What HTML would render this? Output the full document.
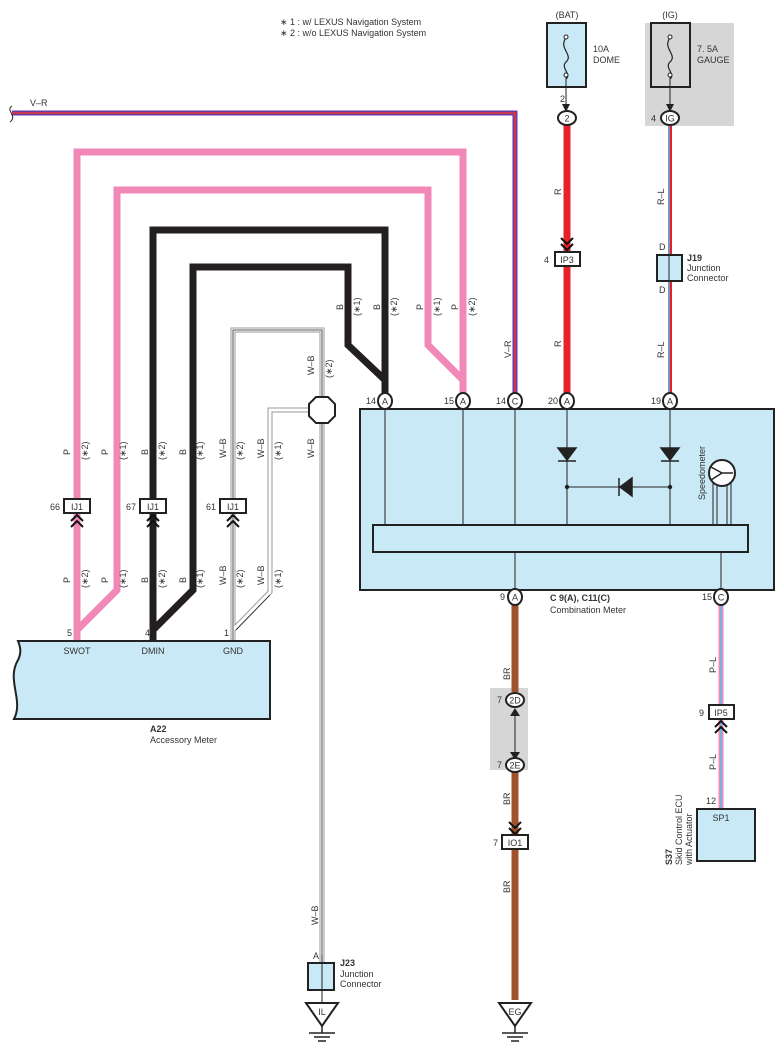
<!DOCTYPE html>
<html><head><meta charset="utf-8"><style>
html,body{margin:0;padding:0;background:#fff}
svg{display:block}
text{font-family:"Liberation Sans",sans-serif;fill:#333}
</style></head><body>
<svg width="784" height="1056" viewBox="0 0 784 1056" xmlns="http://www.w3.org/2000/svg">
<defs>
<g id="chev"><path d="M-6,0 L0,-6 L6,0 M-6,6 L0,0 L6,6" fill="none" stroke="#111" stroke-width="2"/></g>
<g id="chevd"><path d="M-6,-6 L0,0 L6,-6 M-6,0 L0,6 L6,0" fill="none" stroke="#111" stroke-width="2"/></g>
</defs>
<!-- legend -->
<text x="280" y="25" font-size="9">∗ 1 : w/ LEXUS Navigation System</text>
<text x="280" y="36" font-size="9">∗ 2 : w/o LEXUS Navigation System</text>

<!-- fuses -->
<text x="567" y="18" font-size="9" text-anchor="middle">(BAT)</text>
<rect x="547" y="23" width="39" height="64" fill="#c9e9f7" stroke="#222" stroke-width="2"/>
<path d="M566,38 C558,48 574,55 566,62 C560,68 572,74 566,79" fill="none" stroke="#222" stroke-width="1.2"/>
<circle cx="566" cy="37" r="2" fill="#fff" stroke="#222"/><circle cx="566" cy="75" r="2" fill="#fff" stroke="#222"/>
<text x="593" y="52" font-size="9">10A</text><text x="593" y="63" font-size="9">DOME</text>
<line x1="566" y1="77" x2="566" y2="110" stroke="#222" stroke-width="1"/>
<path d="M562,104 L566,112 L570,104 Z" fill="#222"/>
<text x="560" y="102" font-size="9">2</text>

<rect x="645" y="23" width="89" height="103" fill="#d6d6d6"/>
<text x="670" y="18" font-size="9" text-anchor="middle">(IG)</text>
<rect x="651" y="23" width="39" height="64" fill="#d6d6d6" stroke="#222" stroke-width="2"/>
<path d="M670,38 C662,48 678,55 670,62 C664,68 676,74 670,79" fill="none" stroke="#222" stroke-width="1.2"/>
<circle cx="670" cy="37" r="2" fill="#fff" stroke="#222"/><circle cx="670" cy="75" r="2" fill="#fff" stroke="#222"/>
<text x="697" y="52" font-size="9">7. 5A</text><text x="697" y="63" font-size="9">GAUGE</text>
<line x1="670" y1="77" x2="670" y2="110" stroke="#222" stroke-width="1"/>
<path d="M666,104 L670,112 L674,104 Z" fill="#222"/>

<!-- V-R wire -->
<path d="M12,113 H515 V400" fill="none" stroke="#6a3aa0" stroke-width="5"/>
<path d="M12,113 H515 V400" fill="none" stroke="#e8363c" stroke-width="1.6"/>
<path d="M12,106 C5,110 18,116 10,122" fill="none" stroke="#222" stroke-width="1"/>
<text x="30" y="106" font-size="9">V–R</text>

<!-- pink wires -->
<g fill="none" stroke="#f188b8" stroke-width="7" stroke-linejoin="miter">
<path d="M77,640 V152 H463 V400"/>
<path d="M77,630 L117,590 V190 H428 V345 L463,380"/>
</g>
<!-- black wires -->
<g fill="none" stroke="#231f20" stroke-width="7">
<path d="M153,640 V230 H385 V400"/>
<path d="M153,630 L193,590 V267 H348 V345 L385,380"/>
</g>
<!-- W-B wires -->
<g fill="none" stroke="#9a9a9a" stroke-width="5">
<path d="M233,640 V330 H322 V400"/>
<path d="M233,630 L270,592 V410 H314"/>
<path d="M322,420 V965"/>
</g>
<g fill="none" stroke="#fff" stroke-width="3">
<path d="M233,640 V330 H322 V400"/>
<path d="M233,630 L270,592 V410 H314"/>
<path d="M322,420 V965"/>
</g>
<g fill="none" stroke="#222" stroke-width="0.8">
<path d="M233,640 V330 H322 V400"/>
<path d="M236,630 L270,595"/>
<path d="M322,420 V965"/>
</g>
<polygon points="316,397 328,397 335,404 335,416 328,423 316,423 309,416 309,404" fill="#fff" stroke="#222" stroke-width="2"/>

<!-- wire labels left -->
<g font-size="9">
<text transform="translate(70,455) rotate(-90)">P</text>
<text transform="translate(88,460) rotate(-90)">(∗2)</text>
<text transform="translate(108,455) rotate(-90)">P</text>
<text transform="translate(126,460) rotate(-90)">(∗1)</text>
<text transform="translate(148,455) rotate(-90)">B</text>
<text transform="translate(165,460) rotate(-90)">(∗2)</text>
<text transform="translate(186,455) rotate(-90)">B</text>
<text transform="translate(203,460) rotate(-90)">(∗1)</text>
<text transform="translate(226,458) rotate(-90)">W–B</text>
<text transform="translate(243,460) rotate(-90)">(∗2)</text>
<text transform="translate(264,458) rotate(-90)">W–B</text>
<text transform="translate(281,460) rotate(-90)">(∗1)</text>
<text transform="translate(314,458) rotate(-90)">W–B</text>
<text transform="translate(70,583) rotate(-90)">P</text>
<text transform="translate(88,588) rotate(-90)">(∗2)</text>
<text transform="translate(108,583) rotate(-90)">P</text>
<text transform="translate(126,588) rotate(-90)">(∗1)</text>
<text transform="translate(148,583) rotate(-90)">B</text>
<text transform="translate(165,588) rotate(-90)">(∗2)</text>
<text transform="translate(186,583) rotate(-90)">B</text>
<text transform="translate(203,588) rotate(-90)">(∗1)</text>
<text transform="translate(226,585) rotate(-90)">W–B</text>
<text transform="translate(243,588) rotate(-90)">(∗2)</text>
<text transform="translate(264,585) rotate(-90)">W–B</text>
<text transform="translate(281,588) rotate(-90)">(∗1)</text>
<text transform="translate(314,375) rotate(-90)">W–B</text>
<text transform="translate(332,378) rotate(-90)">(∗2)</text>
<text transform="translate(343,310) rotate(-90)">B</text>
<text transform="translate(360,316) rotate(-90)">(∗1)</text>
<text transform="translate(380,310) rotate(-90)">B</text>
<text transform="translate(397,316) rotate(-90)">(∗2)</text>
<text transform="translate(423,310) rotate(-90)">P</text>
<text transform="translate(440,316) rotate(-90)">(∗1)</text>
<text transform="translate(458,310) rotate(-90)">P</text>
<text transform="translate(475,316) rotate(-90)">(∗2)</text>
<text transform="translate(511,358) rotate(-90)">V–R</text>
</g>

<!-- IJ1 connectors -->
<g font-size="9">
<rect x="64" y="499" width="26" height="14" fill="#fff" stroke="#222" stroke-width="2"/><text x="77" y="510" text-anchor="middle">IJ1</text><text x="50" y="510">66</text>
<use href="#chev" x="77" y="521"/>
<rect x="140" y="499" width="26" height="14" fill="#fff" stroke="#222" stroke-width="2"/><text x="153" y="510" text-anchor="middle">IJ1</text><text x="126" y="510">67</text>
<use href="#chev" x="153" y="521"/>
<rect x="220" y="499" width="26" height="14" fill="#fff" stroke="#222" stroke-width="2"/><text x="233" y="510" text-anchor="middle">IJ1</text><text x="206" y="510">61</text>
<use href="#chev" x="233" y="521"/>
</g>

<!-- A22 -->
<path d="M18,641 H270 V719 H14 C24,700 6,680 18,660 C22,652 20,646 18,641 Z" fill="#c9e9f7" stroke="#222" stroke-width="2"/>
<g font-size="9">
<text x="67" y="636">5</text><text x="145" y="636">4</text><text x="224" y="636">1</text>
<text x="77" y="654" text-anchor="middle">SWOT</text><text x="153" y="654" text-anchor="middle">DMIN</text><text x="233" y="654" text-anchor="middle">GND</text>
<text x="150" y="732" font-weight="bold">A22</text><text x="150" y="743">Accessory Meter</text>
</g>

<!-- R wire -->
<line x1="567" y1="125" x2="567" y2="398" stroke="#e8202a" stroke-width="7"/>
<ellipse cx="567" cy="118" rx="9" ry="7" fill="#fff" stroke="#222" stroke-width="2"/>
<text x="567" y="121.5" font-size="9" text-anchor="middle">2</text>
<rect x="555" y="252" width="25" height="14" fill="#fff" stroke="#222" stroke-width="2"/>
<text x="567" y="263" font-size="9" text-anchor="middle">IP3</text><text x="544" y="263" font-size="9">4</text>
<use href="#chevd" x="567" y="244"/>
<text transform="translate(561,195) rotate(-90)" font-size="9">R</text>
<text transform="translate(561,347) rotate(-90)" font-size="9">R</text>

<!-- R-L wire -->
<line x1="670" y1="125" x2="670" y2="398" stroke="#e8202a" stroke-width="4"/>
<line x1="669" y1="125" x2="669" y2="398" stroke="#4fc1e9" stroke-width="1.5"/>
<ellipse cx="670" cy="118" rx="9" ry="7" fill="#fff" stroke="#222" stroke-width="2"/>
<text x="670" y="121.5" font-size="9" text-anchor="middle">IG</text><text x="651" y="121.5" font-size="9">4</text>
<rect x="657" y="255" width="25" height="26" fill="#c9e9f7" stroke="#222" stroke-width="2"/>
<line x1="669" y1="255" x2="669" y2="281" stroke="#222" stroke-width="1"/>
<text x="659" y="250" font-size="9">D</text><text x="659" y="293" font-size="9">D</text>
<text x="687" y="261" font-size="9" font-weight="bold">J19</text>
<text x="687" y="271" font-size="9">Junction</text><text x="687" y="281" font-size="9">Connector</text>
<text transform="translate(664,205) rotate(-90)" font-size="9">R–L</text>
<text transform="translate(664,358) rotate(-90)" font-size="9">R–L</text>

<!-- combination meter -->
<rect x="360" y="409" width="414" height="181" fill="#c9e9f7" stroke="#222" stroke-width="2"/>
<g stroke="#222" stroke-width="1">
<line x1="385" y1="409" x2="385" y2="525"/><line x1="463" y1="409" x2="463" y2="525"/>
<line x1="515" y1="409" x2="515" y2="525"/><line x1="567" y1="409" x2="567" y2="525"/>
<line x1="670" y1="409" x2="670" y2="525"/>
<line x1="567" y1="487" x2="670" y2="487"/>
<line x1="515" y1="552" x2="515" y2="590"/><line x1="721" y1="552" x2="721" y2="590"/>
<line x1="713" y1="483" x2="713" y2="525"/><line x1="717" y1="485" x2="717" y2="525"/>
<line x1="727" y1="485" x2="727" y2="525"/><line x1="731" y1="483" x2="731" y2="525"/>
</g>
<rect x="373" y="525" width="375" height="27" fill="#c9e9f7" stroke="#222" stroke-width="2"/>
<path d="M558,448 H576 L567,460 Z M558,461 H576" fill="#222" stroke="#222" stroke-width="1.5"/>
<path d="M661,448 H679 L670,460 Z M661,461 H679" fill="#222" stroke="#222" stroke-width="1.5"/>
<path d="M632,478 V496 L620,487 Z M619,478 V496" fill="#222" stroke="#222" stroke-width="1.5"/>
<circle cx="567" cy="487" r="2.2" fill="#222"/><circle cx="670" cy="487" r="2.2" fill="#222"/>
<circle cx="722" cy="473" r="13" fill="#fff" stroke="#222" stroke-width="2"/>
<path d="M711,467 L722,473 L733,473 M722,473 L711,480" fill="none" stroke="#222" stroke-width="1.5"/>
<text transform="translate(705,500) rotate(-90)" font-size="9">Speedometer</text>

<!-- top pins -->
<g font-size="9">
<ellipse cx="385" cy="401" rx="7" ry="8" fill="#fff" stroke="#222" stroke-width="2"/><text x="385" y="404.5" text-anchor="middle">A</text><text x="366" y="404">14</text>
<ellipse cx="463" cy="401" rx="7" ry="8" fill="#fff" stroke="#222" stroke-width="2"/><text x="463" y="404.5" text-anchor="middle">A</text><text x="444" y="404">15</text>
<ellipse cx="515" cy="401" rx="7" ry="8" fill="#fff" stroke="#222" stroke-width="2"/><text x="515" y="404.5" text-anchor="middle">C</text><text x="496" y="404">14</text>
<ellipse cx="567" cy="401" rx="7" ry="8" fill="#fff" stroke="#222" stroke-width="2"/><text x="567" y="404.5" text-anchor="middle">A</text><text x="548" y="404">20</text>
<ellipse cx="670" cy="401" rx="7" ry="8" fill="#fff" stroke="#222" stroke-width="2"/><text x="670" y="404.5" text-anchor="middle">A</text><text x="651" y="404">19</text>
</g>

<!-- BR wire -->
<rect x="490" y="688" width="38" height="82" fill="#d6d6d6"/>
<line x1="515" y1="604" x2="515" y2="692" stroke="#a0522d" stroke-width="7"/>
<line x1="515" y1="772" x2="515" y2="1000" stroke="#a0522d" stroke-width="7"/>
<line x1="515" y1="710" x2="515" y2="758" stroke="#222" stroke-width="1"/>
<path d="M510,716 L515,708 L520,716 Z M510,752 L515,760 L520,752 Z" fill="#222"/>
<g font-size="9">
<ellipse cx="515" cy="597" rx="7" ry="8" fill="#fff" stroke="#222" stroke-width="2"/><text x="515" y="600.5" text-anchor="middle">A</text><text x="500" y="600">9</text>
<text x="550" y="601" font-weight="bold">C 9(A), C11(C)</text><text x="550" y="613">Combination Meter</text>
<ellipse cx="515" cy="700" rx="9" ry="7" fill="#fff" stroke="#222" stroke-width="2"/><text x="515" y="703.5" text-anchor="middle">2D</text><text x="497" y="703">7</text>
<ellipse cx="515" cy="765" rx="9" ry="7" fill="#fff" stroke="#222" stroke-width="2"/><text x="515" y="768.5" text-anchor="middle">2E</text><text x="497" y="768">7</text>
<use href="#chevd" x="515" y="828"/>
<rect x="502" y="835" width="26" height="14" fill="#fff" stroke="#222" stroke-width="2"/><text x="515" y="846" text-anchor="middle">IO1</text><text x="493" y="846">7</text>
<text transform="translate(510,680) rotate(-90)">BR</text>
<text transform="translate(510,805) rotate(-90)">BR</text>
<text transform="translate(510,893) rotate(-90)">BR</text>
</g>
<path d="M499,1003 H531 L515,1026 Z" fill="#fff" stroke="#222" stroke-width="2"/>
<text x="515" y="1015" font-size="9" text-anchor="middle">EG</text>
<path d="M515,1026 V1033 M502,1033 H528 M507,1037 H523 M511,1041 H519" stroke="#222" stroke-width="1.5"/>

<!-- J23 / IL -->
<rect x="308" y="963" width="26" height="27" fill="#c9e9f7" stroke="#222" stroke-width="2"/>
<line x1="322" y1="955" x2="322" y2="1003" stroke="#222" stroke-width="1"/>
<text x="313" y="959" font-size="9">A</text>
<text x="340" y="966" font-size="9" font-weight="bold">J23</text>
<text x="340" y="977" font-size="9">Junction</text><text x="340" y="987" font-size="9">Connector</text>
<text transform="translate(318,925) rotate(-90)" font-size="9">W–B</text>
<path d="M306,1003 H338 L322,1026 Z" fill="#fff" stroke="#222" stroke-width="2"/>
<text x="322" y="1015" font-size="9" text-anchor="middle">IL</text>
<path d="M322,1026 V1033 M309,1033 H335 M314,1037 H330 M318,1041 H326" stroke="#222" stroke-width="1.5"/>

<!-- P-L wire -->
<line x1="721" y1="604" x2="721" y2="808" stroke="#f188b8" stroke-width="5"/>
<line x1="721" y1="604" x2="721" y2="808" stroke="#4fc1e9" stroke-width="1.5"/>
<g font-size="9">
<ellipse cx="721" cy="597" rx="7" ry="8" fill="#fff" stroke="#222" stroke-width="2"/><text x="721" y="600.5" text-anchor="middle">C</text><text x="702" y="600">15</text>
<rect x="709" y="705" width="25" height="14" fill="#fff" stroke="#222" stroke-width="2"/><text x="721" y="716" text-anchor="middle">IP5</text><text x="699" y="716">9</text>
<use href="#chev" x="721" y="727"/>
<text transform="translate(716,673) rotate(-90)">P–L</text>
<text transform="translate(716,770) rotate(-90)">P–L</text>
<rect x="697" y="809" width="58" height="52" fill="#c9e9f7" stroke="#222" stroke-width="2"/>
<text x="721" y="821" text-anchor="middle">SP1</text><text x="706" y="804">12</text>
<text transform="translate(672,865) rotate(-90)" font-weight="bold">S37</text>
<text transform="translate(682,865) rotate(-90)">Skid Control ECU</text>
<text transform="translate(692,865) rotate(-90)">with Actuator</text>
</g>
</svg>
</body></html>
